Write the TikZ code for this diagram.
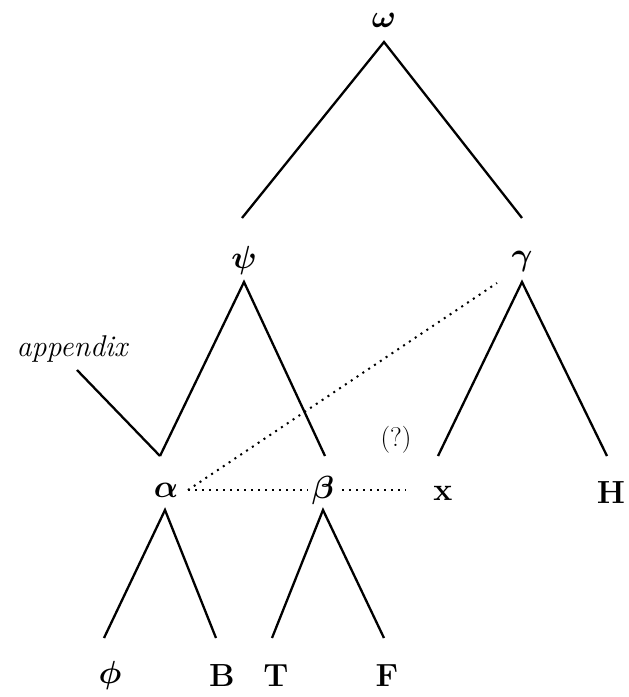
\RequirePackage{fix-cm}
\documentclass[tikz,border=0pt]{standalone}
\usepackage{amsmath,bm}
\begin{document}
\begin{tikzpicture}[x=1pt,y=-1pt,
  lab/.style={inner sep=1pt,fill=white,font=\fontsize{32}{36}\selectfont\bfseries},
  br/.style={line width=2.3pt},
  dt/.style={line width=2pt,dash pattern=on 2pt off 5pt}]
\useasboundingbox (0,0) rectangle (629,697);
% branch points
\coordinate (o1) at (384,42);
\coordinate (oL) at (242,218);
\coordinate (oR) at (522,218);
\coordinate (p1) at (244,282);
\coordinate (pL) at (160,456);
\coordinate (pR) at (325,456);
\coordinate (g1) at (522,282);
\coordinate (gL) at (438,456);
\coordinate (gR) at (607,456);
\coordinate (a0) at (77,370);
\coordinate (a1) at (165,510);
\coordinate (aL) at (104,638);
\coordinate (aR) at (216,638);
\coordinate (b1) at (323,510);
\coordinate (bL) at (272,638);
\coordinate (bR) at (384,638);
\coordinate (d0) at (188,490);
\coordinate (d1) at (406,490);
\coordinate (d2) at (497,283);
% branches
\draw[br] (oL) -- (o1) -- (oR);
\draw[br] (pL) -- (p1) -- (pR);
\draw[br] (gL) -- (g1) -- (gR);
\draw[br] (a0) -- (pL);
\draw[br] (aL) -- (a1) -- (aR);
\draw[br] (bL) -- (b1) -- (bR);
% dotted
\draw[dt] (d0) -- (d1);
\draw[dt] (d0) -- (d2);
% labels
\node[lab] (omega) at (384,20) {$\bm{\omega}$};
\node[lab] (psi) at (244,260) {$\bm{\psi}$};
\node[lab] (gamma) at (522,261) {$\bm{\gamma}$};
\node[lab] (alpha) at (166,490) {$\bm{\alpha}$};
\node[lab,inner xsep=4pt] (beta) at (323,490) {$\bm{\beta}$};
\node[lab] (x) at (443,493) {x};
\node[lab] (H) at (611,493) {H};
\node[lab] (phi) at (110,675) {$\bm{\phi}$};
\node[lab] (B) at (222,676) {B};
\node[lab] (T) at (276,676) {T};
\node[lab] (F) at (387,676) {F};
\node[inner sep=0pt,font=\fontsize{30}{34}\selectfont\itshape] (app) at (72,349) {appendix};
\node[inner sep=0pt,font=\fontsize{27}{31}\selectfont] (q) at (396,440) {(?)};
\end{tikzpicture}
\end{document}
